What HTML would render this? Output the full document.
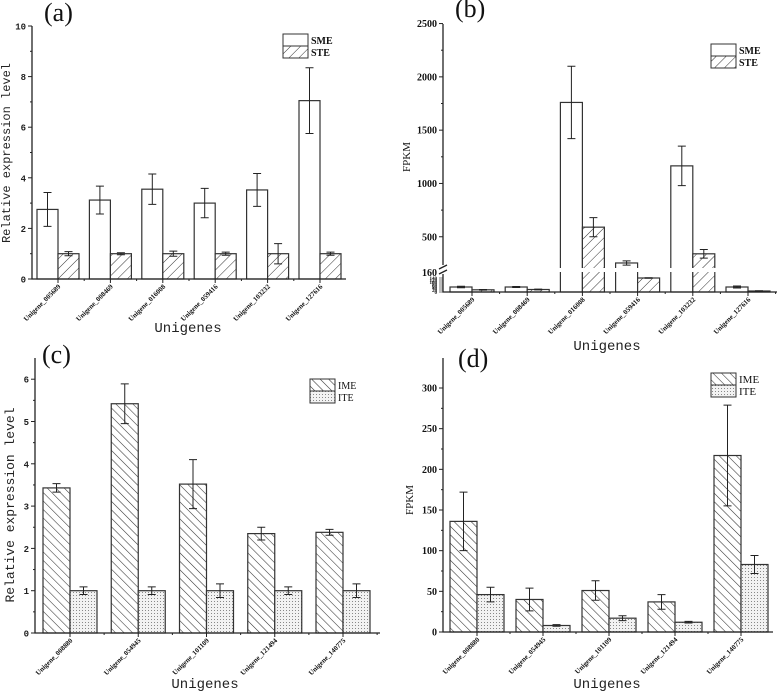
<!DOCTYPE html>
<html><head><meta charset="utf-8">
<style>
html,body{margin:0;padding:0;background:#fff;}
svg{display:block;}
.t{font-family:"Liberation Serif",serif;fill:#111;}
.m{font-family:"Liberation Mono",monospace;fill:#222;}
</style></head>
<body>
<svg id="fig" width="778" height="692" viewBox="0 0 778 692" xmlns="http://www.w3.org/2000/svg">
<defs>
<pattern id="fwd" patternUnits="userSpaceOnUse" width="7" height="7" patternTransform="rotate(45)"><rect width="7" height="7" fill="#fff"/><line x1="0" y1="0" x2="0" y2="7" stroke="#333" stroke-width="1"/></pattern>
<pattern id="bwd" patternUnits="userSpaceOnUse" width="6" height="6" patternTransform="rotate(-45)"><rect width="6" height="6" fill="#fff"/><line x1="0" y1="0" x2="0" y2="6" stroke="#333" stroke-width="1.1"/></pattern>
<pattern id="dots" patternUnits="userSpaceOnUse" width="3" height="3"><rect width="3" height="3" fill="#f2f2f2"/><rect x="1" y="1" width="1" height="1" fill="#888"/></pattern>
</defs>
<g id="root"></g>
</svg>
<script>
// ---- Panel (a) data ----
const catsA = ["Unigene_005689","Unigene_008469","Unigene_016008","Unigene_059416","Unigene_103232","Unigene_127616"];
const smeA = [2.75,3.12,3.55,3.0,3.52,7.05];
const smeErrA = [0.67,0.55,0.6,0.58,0.65,1.3];
const steA = [1,1,1,1,1,1];
const steErrA = [0.08,0.04,0.1,0.06,0.4,0.06];
const ticksA = [0,2,4,6,8,10];
// ---- Panel (b) data ----
const catsB = catsA;
const smeB = [50,50,1760,254,1165,50];
const smeErrB = [8,5,340,20,185,10];
const steB = [22,25,590,140,340,10];
const steErrB = [3,4,90,2,40,2];
const ticksB = [500,1000,1500,2000,2500];
// ---- Panel (c) data ----
const catsC = ["Unigene_008880","Unigene_054945","Unigene_101109","Unigene_121494","Unigene_140775"];
const imeC = [3.43,5.42,3.52,2.35,2.38];
const imeErrC = [0.1,0.47,0.58,0.15,0.07];
const iteC = [1,1,1,1,1];
const iteErrC = [0.09,0.09,0.16,0.09,0.16];
const ticksC = [0,1,2,3,4,5,6];
// ---- Panel (d) data ----
const catsD = catsC;
const imeD = [136,40,51,37,217];
const imeErrD = [36,14,12,9,62];
const iteD = [46,8,17,12,83];
const iteErrD = [9,1,3,1,11];
const ticksD = [0,50,100,150,200,250,300];

const NS="http://www.w3.org/2000/svg";
const root=document.getElementById('root');
function mk(tag,attrs,parent){const e=document.createElementNS(NS,tag);for(const k in attrs)e.setAttribute(k,attrs[k]);(parent||root).appendChild(e);return e;}

function panel(o){
  const g=mk('g',{});
  
  
  const n=o.cats.length;
  const step=(o.lastC-o.firstC)/(n-1);
  const xc=i=>o.firstC+i*step;
  o.series.forEach((s,si)=>{
    s.vals.forEach((v,i)=>{
      const x0=si===0?xc(i)-o.bw:xc(i);
      const yt=o.y(v);
      const r=mk('rect',{x:x0,y:yt,width:o.bw,height:o.y0-yt,fill:s.fill,stroke:'#333','stroke-width':1.2},g);
      
      
      const cx=x0+o.bw/2, e=s.errs[i];
      const y1=o.y(v+e), y2=o.y(Math.max(v-e,0));
      const eb=mk('path',{d:`M${cx},${y1}V${y2}M${cx-4},${y1}H${cx+4}M${cx-4},${y2}H${cx+4}`,stroke:'#222','stroke-width':1,fill:'none'},g);
      
      
    });
  });
  if(o.afterBars) o.afterBars(g);
  const ax=mk('path',{d:`M${o.ax},${o.top}V${o.y0}H${o.xend}`,stroke:'#222','stroke-width':1.3,fill:'none'},g);
  
  
  for(let i=0;i<n;i++){
    mk('line',{x1:xc(i),y1:o.y0,x2:xc(i),y2:o.y0+4,stroke:'#222'},g);
    const mx=xc(i)+step/2; if(mx<o.xend) mk('line',{x1:mx,y1:o.y0,x2:mx,y2:o.y0+2,stroke:'#222'},g);
    const tl=mk('text',{x:xc(i)+3,y:o.y0+8,'font-size':o.xfs,'font-weight':'bold','text-anchor':'end',class:'t',transform:`rotate(-45 ${xc(i)+3} ${o.y0+8})`},g);
    tl.textContent=o.cats[i];
    
    
  }
  o.ticks.forEach((t,k)=>{
    const yy=o.y(t);
    mk('line',{x1:o.ax-4,y1:yy,x2:o.ax,y2:yy,stroke:'#222'},g);
    if(k<o.ticks.length-1){const ym=o.y((t+o.ticks[k+1])/2); mk('line',{x1:o.ax-2,y1:ym,x2:o.ax,y2:ym,stroke:'#222'},g);}
    const tl=mk('text',{x:o.ax-6,y:yy+3.5,'font-size':o.yfs||10,'text-anchor':'end','font-weight':'bold',class:o.yclass},g);
    tl.textContent=t;
    
    
  });
  o.series.forEach((s,si)=>{
    const ly=o.ly+si*12;
    const r=mk('rect',{x:o.lx,y:ly,width:25,height:12,fill:s.fill,stroke:'#333'},g);
    
    
    const t=mk('text',{x:o.lx+28,y:ly+10,'font-size':o.lfs,'font-weight':o.lfw,class:'t'},g);
    t.textContent=s.label;
    
    
  });
  const pl=mk('text',{x:o.plx,y:o.ply,'font-size':26,class:'t'},g);
  pl.textContent=o.plabel;
  
  
  const yt=mk('text',{x:o.ytx,y:o.yty,'font-size':o.ytfs,'text-anchor':'middle',class:o.ytclass,transform:`rotate(-90 ${o.ytx} ${o.yty})`},g);
  yt.textContent=o.ytitle;
  
  
  const xt=mk('text',{x:o.xtx,y:o.xty,'font-size':14,'text-anchor':'middle',class:'m'},g);
  xt.textContent='Unigenes';
  
  
}

panel({name:'panel-a',cats:catsA,firstC:58,lastC:320,bw:21,y0:279,top:26,ax:32,xend:346,
  y:v=>279-v*25.3,ticks:ticksA,xfs:7,yclass:'m',yfs:9,
  series:[{key:'sme',label:'SME',fill:'#fff',vals:smeA,errs:smeErrA},{key:'ste',label:'STE',fill:'url(#fwd)',vals:steA,errs:steErrA}],
  lx:283,ly:34,lfs:10,lfw:'bold',plabel:'(a)',plx:44,ply:21,ytitle:'Relative expression level',ytx:10,yty:153,ytfs:12,ytclass:'m',xtx:188,xty:332});

const yB=v=> v<=160 ? 292-v*(16/160) : 273-(v-160)*(53.3/500);
panel({name:'panel-b',cats:catsB,firstC:472,lastC:748,bw:22,y0:292,top:24,ax:443,xend:777,
  y:yB,ticks:ticksB,xfs:7,yclass:'t',
  series:[{key:'sme',label:'SME',fill:'#fff',vals:smeB,errs:smeErrB},{key:'ste',label:'STE',fill:'url(#fwd)',vals:steB,errs:steErrB}],
  afterBars:g=>{const b=mk('rect',{x:444,y:268,width:333,height:4,fill:'#fff'},g);
    
    },
  lx:711,ly:44,lfs:10,lfw:'bold',plabel:'(b)',plx:455,ply:17,ytitle:'FPKM',ytx:410,yty:157,ytfs:11,ytclass:'t',xtx:607,xty:350});
(function(){
  const g=mk('g',{});
  
  
  mk('rect',{x:439,y:265,width:9,height:9,fill:'#fff'},g);
  mk('path',{d:'M439,269L447,265M439,274L447,270',stroke:'#222','stroke-width':1.3},g);
  const t=mk('text',{x:437,y:276,'font-size':10,'text-anchor':'end','font-weight':'bold',class:'t'},g);
  t.textContent='160';
  [0,20,40,60,80,100,120,140].forEach(v=>{const tt=mk('text',{x:437,y:yB(v)+2,'font-size':5,'text-anchor':'end','font-weight':'bold',class:'t'},g);tt.textContent=v;
    mk('line',{x1:439,y1:yB(v),x2:443,y2:yB(v),stroke:'#222','stroke-width':0.6},g);});
})();

panel({name:'panel-c',cats:catsC,firstC:70,lastC:343,bw:27,y0:633,top:358,ax:35,xend:380,
  y:v=>633-v*42.3,ticks:ticksC,xfs:7,yclass:'m',yfs:9,
  series:[{key:'ime',label:'IME',fill:'url(#bwd)',vals:imeC,errs:imeErrC},{key:'ite',label:'ITE',fill:'url(#dots)',vals:iteC,errs:iteErrC}],
  lx:310,ly:379,lfs:10,lfw:'normal',plabel:'(c)',plx:42,ply:363,ytitle:'Relative expression level',ytx:14,yty:505,ytfs:13,ytclass:'m',xtx:205,xty:688});

panel({name:'panel-d',cats:catsD,firstC:477,lastC:741,bw:27,y0:632,top:358,ax:443,xend:773,
  y:v=>632-v*(244/300),ticks:ticksD,xfs:7,yclass:'t',
  series:[{key:'ime',label:'IME',fill:'url(#bwd)',vals:imeD,errs:imeErrD},{key:'ite',label:'ITE',fill:'url(#dots)',vals:iteD,errs:iteErrD}],
  lx:711,ly:373,lfs:11,lfw:'normal',plabel:'(d)',plx:458,ply:367,ytitle:'FPKM',ytx:413,yty:500,ytfs:11,ytclass:'t',xtx:607,xty:688});
</script>
</body></html>
